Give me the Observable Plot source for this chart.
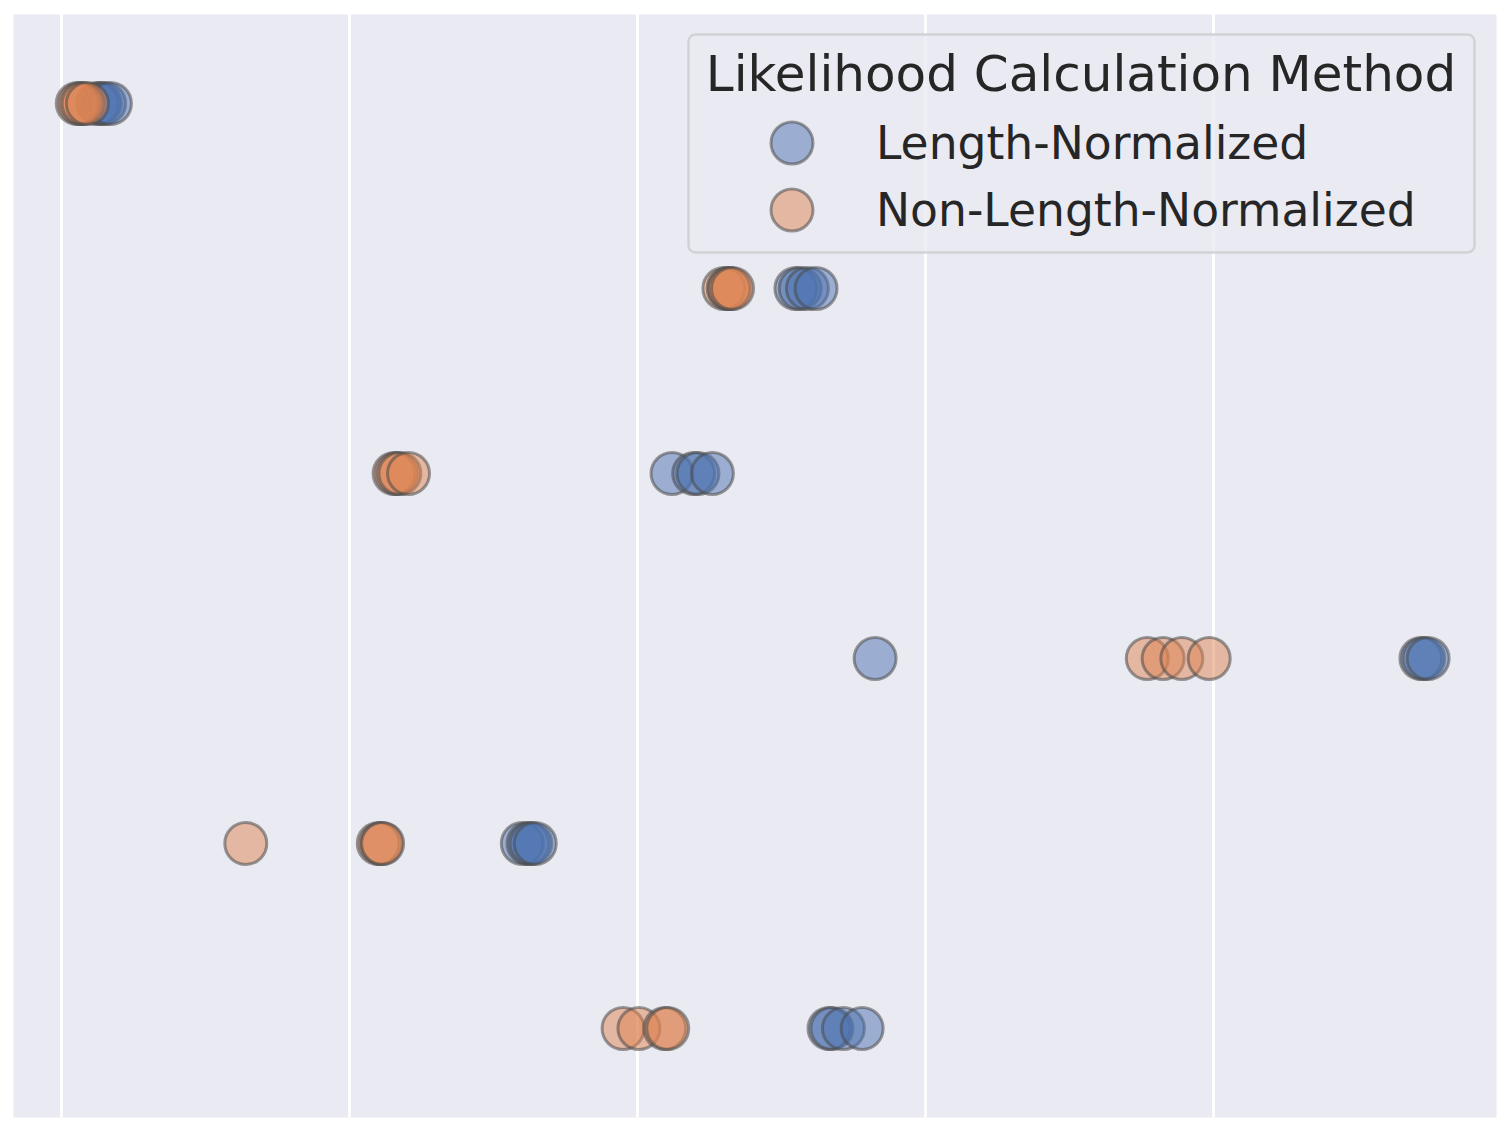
<!DOCTYPE html>
<html>
<head>
<meta charset="utf-8">
<script src="https://cdn.jsdelivr.net/npm/d3@7"></script>
<script src="https://cdn.jsdelivr.net/npm/@observablehq/plot@0.6"></script>
<style>
  html, body { margin: 0; padding: 0; background: #ffffff; }
  #wrap { position: relative; width: 1509px; height: 1128px; }
  #wrap svg { display: block; }
  #legend { position: absolute; left: 0; top: 0; pointer-events: none; }
</style>
</head>
<body>
<div id="wrap"></div>
<script>
// ---- data ----
const categories = ["Row 1", "Row 2", "Row 3", "Row 4", "Row 5", "Row 6"];
const methods = ["Length-Normalized", "Non-Length-Normalized"];
const methodColors = ["#4C72B0", "#DD8452"];
const gridTicks = [0, 0.2, 0.4, 0.6, 0.8];

const lengthNormalized = [
  [0.025, 0.027, 0.030, 0.034],
  [0.510, 0.513, 0.518, 0.524],
  [0.424, 0.439, 0.442, 0.452],
  [0.565, 0.944, 0.946, 0.949],
  [0.320, 0.324, 0.326, 0.329],
  [0.533, 0.535, 0.543, 0.556]
];
const nonLengthNormalized = [
  [0.011, 0.013, 0.015, 0.018],
  [0.460, 0.463, 0.464, 0.466],
  [0.231, 0.233, 0.235, 0.241],
  [0.754, 0.765, 0.778, 0.797],
  [0.128, 0.220, 0.222, 0.223],
  [0.390, 0.401, 0.419, 0.421]
];

const table = [];
[lengthNormalized, nonLengthNormalized].forEach((series, mi) => {
  series.forEach((vals, ci) => {
    vals.forEach(v => table.push({category: categories[ci], method: methods[mi], value: v}));
  });
});

const chart = Plot.plot({
  width: 1509,
  height: 1128,
  marginLeft: 13,
  marginRight: 13,
  marginTop: 14,
  marginBottom: 11,
  style: {background: "#ffffff", fontFamily: "DejaVu Sans"},
  x: {domain: [-0.0333, 0.9965], axis: null},
  y: {type: "point", domain: categories, padding: 0.476, axis: null},
  color: {domain: methods, range: methodColors},
  marks: [
    Plot.frame({fill: "#EAEAF2", stroke: null}),
    Plot.ruleX(gridTicks, {stroke: "#ffffff", strokeWidth: 2.8}),
    Plot.dot(table, {
      x: "value", y: "category", fill: "method", r: 21,
      fillOpacity: 0.5, stroke: "#4a4a4a", strokeOpacity: 0.55, strokeWidth: 3
    })
  ]
});
document.getElementById("wrap").appendChild(chart);

// ---- legend overlay ----
const lg = d3.select("#wrap").append("svg")
  .attr("id", "legend").attr("width", 1509).attr("height", 1128)
  .style("font-family", "DejaVu Sans");
lg.append("rect")
  .attr("x", 688.5).attr("y", 34.5).attr("width", 786).attr("height", 218).attr("rx", 7)
  .attr("fill", "rgba(234,234,242,0.8)").attr("stroke", "#d2d2d6").attr("stroke-width", 2.5);
lg.append("text")
  .attr("x", 1081).attr("y", 91).attr("text-anchor", "middle")
  .attr("font-size", 50).attr("fill", "#262626").text("Likelihood Calculation Method");
const rowsY = [143, 210];
methods.forEach((m, i) => {
  lg.append("circle").attr("cx", 792).attr("cy", rowsY[i]).attr("r", 21)
    .attr("fill", methodColors[i]).attr("fill-opacity", 0.5)
    .attr("stroke", "#4a4a4a").attr("stroke-opacity", 0.55).attr("stroke-width", 3);
  lg.append("text").attr("x", 876).attr("y", rowsY[i] + 16)
    .attr("font-size", 45.6).attr("fill", "#262626").text(m);
});
</script>
</body>
</html>
